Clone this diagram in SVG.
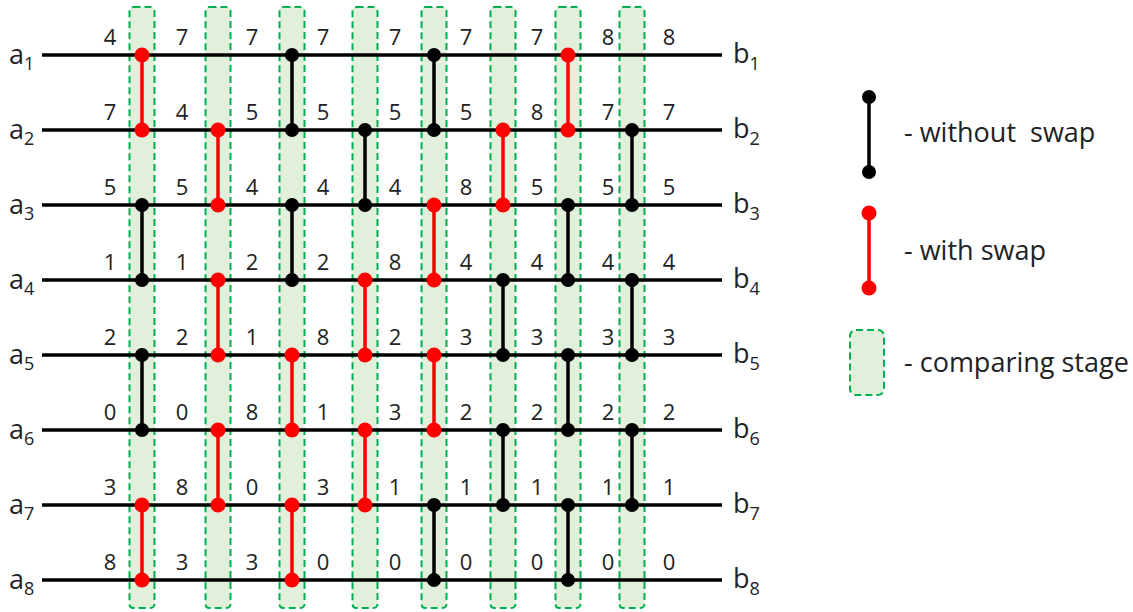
<svg xmlns="http://www.w3.org/2000/svg" width="1133" height="612" viewBox="0 0 1133 612">
<style>
.stage{fill:#E2EFDA;stroke:#00B050;stroke-width:2;stroke-dasharray:7 4}
.wire{stroke:#000;stroke-width:3.5}
.cb{stroke:#000;stroke-width:3.5}
.cr{stroke:#FF0000;stroke-width:3.5}
.db{fill:#000}
.dr{fill:#FF0000}
.num{font-family:"Open Sans","Liberation Sans",sans-serif;font-size:22px;fill:#222;text-anchor:middle}
.lab{font-family:"Open Sans","Liberation Sans",sans-serif;font-size:27px;fill:#222}
.sub{font-size:18px}
.leg{font-family:"Open Sans","Liberation Sans",sans-serif;font-size:27px;fill:#222}
</style>
<rect width="1133" height="612" fill="#fff"/>
<g id="stages">
<rect class="stage" x="129.5" y="7" width="25" height="601" rx="4"/>
<rect class="stage" x="205.5" y="7" width="25" height="601" rx="4"/>
<rect class="stage" x="279.5" y="7" width="25" height="601" rx="4"/>
<rect class="stage" x="352.5" y="7" width="25" height="601" rx="4"/>
<rect class="stage" x="421.5" y="7" width="25" height="601" rx="4"/>
<rect class="stage" x="490.5" y="7" width="25" height="601" rx="4"/>
<rect class="stage" x="555.5" y="7" width="25" height="601" rx="4"/>
<rect class="stage" x="619.5" y="7" width="25" height="601" rx="4"/>
</g>
<g id="wires">
<line class="wire" x1="42" y1="55" x2="722" y2="55"/>
<line class="wire" x1="42" y1="130" x2="722" y2="130"/>
<line class="wire" x1="42" y1="205" x2="722" y2="205"/>
<line class="wire" x1="42" y1="280" x2="722" y2="280"/>
<line class="wire" x1="42" y1="355" x2="722" y2="355"/>
<line class="wire" x1="42" y1="430" x2="722" y2="430"/>
<line class="wire" x1="42" y1="505" x2="722" y2="505"/>
<line class="wire" x1="42" y1="580" x2="722" y2="580"/>
</g>
<g id="labels-a" class="lab">
<text x="9" y="64">a<tspan class="sub" dy="6">1</tspan></text>
<text x="9" y="139">a<tspan class="sub" dy="6">2</tspan></text>
<text x="9" y="214">a<tspan class="sub" dy="6">3</tspan></text>
<text x="9" y="289">a<tspan class="sub" dy="6">4</tspan></text>
<text x="9" y="364">a<tspan class="sub" dy="6">5</tspan></text>
<text x="9" y="439">a<tspan class="sub" dy="6">6</tspan></text>
<text x="9" y="514">a<tspan class="sub" dy="6">7</tspan></text>
<text x="9" y="589">a<tspan class="sub" dy="6">8</tspan></text>
</g>
<g id="labels-b" class="lab">
<text x="733" y="63">b<tspan class="sub" dy="7">1</tspan></text>
<text x="733" y="138">b<tspan class="sub" dy="7">2</tspan></text>
<text x="733" y="213">b<tspan class="sub" dy="7">3</tspan></text>
<text x="733" y="288">b<tspan class="sub" dy="7">4</tspan></text>
<text x="733" y="363">b<tspan class="sub" dy="7">5</tspan></text>
<text x="733" y="438">b<tspan class="sub" dy="7">6</tspan></text>
<text x="733" y="513">b<tspan class="sub" dy="7">7</tspan></text>
<text x="733" y="588">b<tspan class="sub" dy="7">8</tspan></text>
</g>
<g id="values" class="num">
<text x="110" y="45">4</text><text x="182" y="45">7</text><text x="252" y="45">7</text><text x="323" y="45">7</text><text x="395" y="45">7</text><text x="466" y="45">7</text><text x="537" y="45">7</text><text x="608" y="45">8</text><text x="669" y="45">8</text>
<text x="110" y="120">7</text><text x="182" y="120">4</text><text x="252" y="120">5</text><text x="323" y="120">5</text><text x="395" y="120">5</text><text x="466" y="120">5</text><text x="537" y="120">8</text><text x="608" y="120">7</text><text x="669" y="120">7</text>
<text x="110" y="195">5</text><text x="182" y="195">5</text><text x="252" y="195">4</text><text x="323" y="195">4</text><text x="395" y="195">4</text><text x="466" y="195">8</text><text x="537" y="195">5</text><text x="608" y="195">5</text><text x="669" y="195">5</text>
<text x="110" y="270">1</text><text x="182" y="270">1</text><text x="252" y="270">2</text><text x="323" y="270">2</text><text x="395" y="270">8</text><text x="466" y="270">4</text><text x="537" y="270">4</text><text x="608" y="270">4</text><text x="669" y="270">4</text>
<text x="110" y="345">2</text><text x="182" y="345">2</text><text x="252" y="345">1</text><text x="323" y="345">8</text><text x="395" y="345">2</text><text x="466" y="345">3</text><text x="537" y="345">3</text><text x="608" y="345">3</text><text x="669" y="345">3</text>
<text x="110" y="420">0</text><text x="182" y="420">0</text><text x="252" y="420">8</text><text x="323" y="420">1</text><text x="395" y="420">3</text><text x="466" y="420">2</text><text x="537" y="420">2</text><text x="608" y="420">2</text><text x="669" y="420">2</text>
<text x="110" y="495">3</text><text x="182" y="495">8</text><text x="252" y="495">0</text><text x="323" y="495">3</text><text x="395" y="495">1</text><text x="466" y="495">1</text><text x="537" y="495">1</text><text x="608" y="495">1</text><text x="669" y="495">1</text>
<text x="110" y="570">8</text><text x="182" y="570">3</text><text x="252" y="570">3</text><text x="323" y="570">0</text><text x="395" y="570">0</text><text x="466" y="570">0</text><text x="537" y="570">0</text><text x="608" y="570">0</text><text x="669" y="570">0</text>
</g>
<g id="connectors">
<!-- stage 1 x=142 -->
<g><line class="cr" x1="142" y1="55" x2="142" y2="130"/><circle class="dr" cx="142" cy="55" r="7.5"/><circle class="dr" cx="142" cy="130" r="7.5"/></g>
<g><line class="cb" x1="142" y1="205" x2="142" y2="280"/><circle class="db" cx="142" cy="205" r="7"/><circle class="db" cx="142" cy="280" r="7"/></g>
<g><line class="cb" x1="142" y1="355" x2="142" y2="430"/><circle class="db" cx="142" cy="355" r="7"/><circle class="db" cx="142" cy="430" r="7"/></g>
<g><line class="cr" x1="142" y1="505" x2="142" y2="580"/><circle class="dr" cx="142" cy="505" r="7.5"/><circle class="dr" cx="142" cy="580" r="7.5"/></g>
<!-- stage 2 x=218 -->
<g><line class="cr" x1="218" y1="130" x2="218" y2="205"/><circle class="dr" cx="218" cy="130" r="7.5"/><circle class="dr" cx="218" cy="205" r="7.5"/></g>
<g><line class="cr" x1="218" y1="280" x2="218" y2="355"/><circle class="dr" cx="218" cy="280" r="7.5"/><circle class="dr" cx="218" cy="355" r="7.5"/></g>
<g><line class="cr" x1="218" y1="430" x2="218" y2="505"/><circle class="dr" cx="218" cy="430" r="7.5"/><circle class="dr" cx="218" cy="505" r="7.5"/></g>
<!-- stage 3 x=292 -->
<g><line class="cb" x1="292" y1="55" x2="292" y2="130"/><circle class="db" cx="292" cy="55" r="7"/><circle class="db" cx="292" cy="130" r="7"/></g>
<g><line class="cb" x1="292" y1="205" x2="292" y2="280"/><circle class="db" cx="292" cy="205" r="7"/><circle class="db" cx="292" cy="280" r="7"/></g>
<g><line class="cr" x1="292" y1="355" x2="292" y2="430"/><circle class="dr" cx="292" cy="355" r="7.5"/><circle class="dr" cx="292" cy="430" r="7.5"/></g>
<g><line class="cr" x1="292" y1="505" x2="292" y2="580"/><circle class="dr" cx="292" cy="505" r="7.5"/><circle class="dr" cx="292" cy="580" r="7.5"/></g>
<!-- stage 4 x=365 -->
<g><line class="cb" x1="365" y1="130" x2="365" y2="205"/><circle class="db" cx="365" cy="130" r="7"/><circle class="db" cx="365" cy="205" r="7"/></g>
<g><line class="cr" x1="365" y1="280" x2="365" y2="355"/><circle class="dr" cx="365" cy="280" r="7.5"/><circle class="dr" cx="365" cy="355" r="7.5"/></g>
<g><line class="cr" x1="365" y1="430" x2="365" y2="505"/><circle class="dr" cx="365" cy="430" r="7.5"/><circle class="dr" cx="365" cy="505" r="7.5"/></g>
<!-- stage 5 x=434 -->
<g><line class="cb" x1="434" y1="55" x2="434" y2="130"/><circle class="db" cx="434" cy="55" r="7"/><circle class="db" cx="434" cy="130" r="7"/></g>
<g><line class="cr" x1="434" y1="205" x2="434" y2="280"/><circle class="dr" cx="434" cy="205" r="7.5"/><circle class="dr" cx="434" cy="280" r="7.5"/></g>
<g><line class="cr" x1="434" y1="355" x2="434" y2="430"/><circle class="dr" cx="434" cy="355" r="7.5"/><circle class="dr" cx="434" cy="430" r="7.5"/></g>
<g><line class="cb" x1="434" y1="505" x2="434" y2="580"/><circle class="db" cx="434" cy="505" r="7"/><circle class="db" cx="434" cy="580" r="7"/></g>
<!-- stage 6 x=503 -->
<g><line class="cr" x1="503" y1="130" x2="503" y2="205"/><circle class="dr" cx="503" cy="130" r="7.5"/><circle class="dr" cx="503" cy="205" r="7.5"/></g>
<g><line class="cb" x1="503" y1="280" x2="503" y2="355"/><circle class="db" cx="503" cy="280" r="7"/><circle class="db" cx="503" cy="355" r="7"/></g>
<g><line class="cb" x1="503" y1="430" x2="503" y2="505"/><circle class="db" cx="503" cy="430" r="7"/><circle class="db" cx="503" cy="505" r="7"/></g>
<!-- stage 7 x=568 -->
<g><line class="cr" x1="568" y1="55" x2="568" y2="130"/><circle class="dr" cx="568" cy="55" r="7.5"/><circle class="dr" cx="568" cy="130" r="7.5"/></g>
<g><line class="cb" x1="568" y1="205" x2="568" y2="280"/><circle class="db" cx="568" cy="205" r="7"/><circle class="db" cx="568" cy="280" r="7"/></g>
<g><line class="cb" x1="568" y1="355" x2="568" y2="430"/><circle class="db" cx="568" cy="355" r="7"/><circle class="db" cx="568" cy="430" r="7"/></g>
<g><line class="cb" x1="568" y1="505" x2="568" y2="580"/><circle class="db" cx="568" cy="505" r="7"/><circle class="db" cx="568" cy="580" r="7"/></g>
<!-- stage 8 x=632 -->
<g><line class="cb" x1="632" y1="130" x2="632" y2="205"/><circle class="db" cx="632" cy="130" r="7"/><circle class="db" cx="632" cy="205" r="7"/></g>
<g><line class="cb" x1="632" y1="280" x2="632" y2="355"/><circle class="db" cx="632" cy="280" r="7"/><circle class="db" cx="632" cy="355" r="7"/></g>
<g><line class="cb" x1="632" y1="430" x2="632" y2="505"/><circle class="db" cx="632" cy="430" r="7"/><circle class="db" cx="632" cy="505" r="7"/></g>
</g>
<g id="legend">
<g id="legend-without"><line class="cb" x1="869" y1="97" x2="869" y2="172"/><circle class="db" cx="869" cy="97" r="7"/><circle class="db" cx="869" cy="172" r="7"/><text class="leg" x="904" y="142">- without&#160; swap</text></g>
<g id="legend-with"><line class="cr" x1="869" y1="213" x2="869" y2="288"/><circle class="dr" cx="869" cy="213" r="7.5"/><circle class="dr" cx="869" cy="288" r="7.5"/><text class="leg" x="904" y="260">- with swap</text></g>
<g id="legend-stage"><rect class="stage" x="850" y="330" width="34" height="65" rx="6"/><text class="leg" x="904" y="372">- comparing stage</text></g>
</g>
</svg>
